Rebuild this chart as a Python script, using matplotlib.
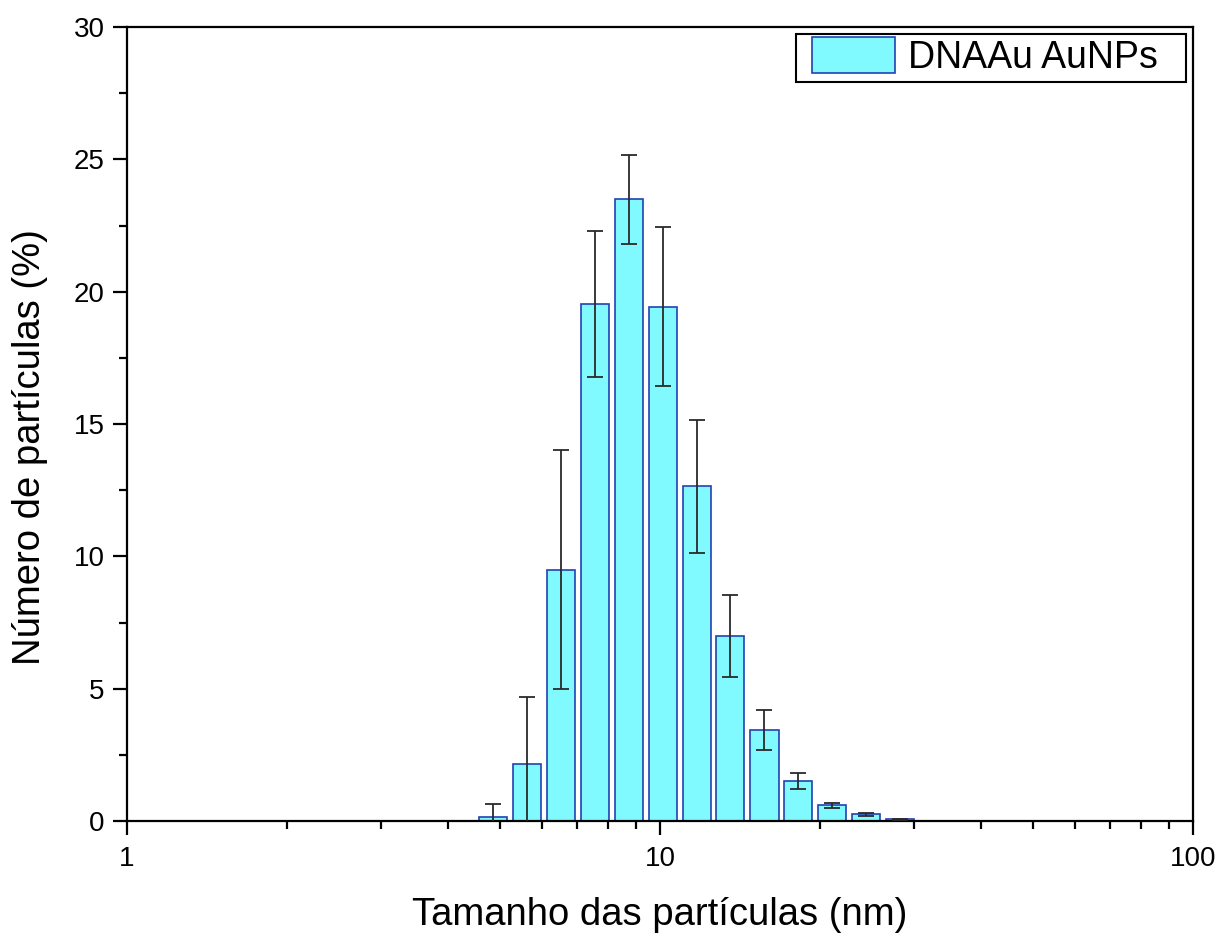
import numpy as np
import matplotlib
matplotlib.use("Agg")
import matplotlib.pyplot as plt
from matplotlib.patches import Rectangle
from matplotlib.ticker import MultipleLocator, LogLocator, NullFormatter, FixedFormatter, FixedLocator

plt.rcParams['font.family'] = ['Liberation Sans', 'DejaVu Sans']

# particle size bins (nm), % of particles and error
sizes = [4.86, 5.62, 6.52, 7.55, 8.74, 10.12, 11.72, 13.55, 15.7, 18.17, 21.0, 24.35, 28.2]
percent = [0.15, 2.14, 9.5, 19.53, 23.5, 19.44, 12.65, 7.0, 3.44, 1.52, 0.6, 0.25, 0.07]
errors = [0.5, 2.53, 4.5, 2.75, 1.68, 3.0, 2.52, 1.55, 0.75, 0.31, 0.1, 0.05, 0.02]
legend_label = "DNAAu AuNPs"

fig = plt.figure(figsize=(12.19, 9.38), dpi=100)
ax = fig.add_axes([0.1042, 0.1247, 0.8745, 0.8465])

# bars drawn on a log axis: each bar spans a fixed fraction of a decade
half = 10 ** 0.0265
sizes = np.array(sizes)
left = sizes / half
width = sizes * half - left
ax.bar(left, percent, width=width, align='edge', color='#80FAFF',
       edgecolor='#2242B4', linewidth=1.2, label=legend_label, zorder=2)
ax.errorbar(sizes, percent, yerr=errors, fmt='none', ecolor='#2a2a2a',
            elinewidth=1.3, capsize=6, capthick=1.3, zorder=3)

ax.set_xscale('log')
ax.set_xlim(1, 100)
ax.set_ylim(0, 30)
ax.xaxis.set_major_locator(FixedLocator([1, 10, 100]))
ax.xaxis.set_major_formatter(FixedFormatter(['1', '10', '100']))
ax.xaxis.set_minor_locator(LogLocator(base=10, subs=np.arange(2, 10)))
ax.xaxis.set_minor_formatter(NullFormatter())
ax.yaxis.set_major_locator(MultipleLocator(5))
ax.yaxis.set_minor_locator(MultipleLocator(2.5))

for s in ax.spines.values():
    s.set_linewidth(1.6)
ax.tick_params(which='major', direction='out', length=10, width=1.6, labelsize=20)
ax.tick_params(which='minor', direction='out', length=5.5, width=1.6)
ax.tick_params(axis='x', pad=8)
ax.tick_params(axis='y', pad=6)

ax.set_xlabel("Tamanho das partículas (nm)", fontsize=27.5, labelpad=18)
ax.set_ylabel("Número de partículas (%)", fontsize=27.5)
ax.yaxis.set_label_coords(-0.074, 0.471)

# legend without its own frame, box drawn separately (Origin-style spacing)
leg = ax.legend(loc='upper left', bbox_to_anchor=(0.6426, 0.9874), frameon=False,
                fontsize=27, borderaxespad=0, borderpad=0, handlelength=2.21,
                handleheight=1.09, handletextpad=0.35)
ax.add_patch(Rectangle((0.6276, 0.9307), 0.3658, 0.0605, transform=ax.transAxes,
                       fill=False, edgecolor='black', linewidth=1.5, zorder=5,
                       clip_on=False))

fig.savefig("out.png", dpi=100)
